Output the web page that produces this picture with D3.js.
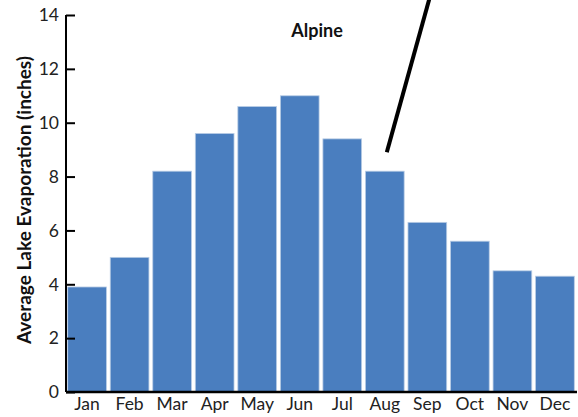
<!DOCTYPE html>
<html>
<head>
<meta charset="utf-8">
<script src="https://d3js.org/d3.v7.min.js"></script>
<style>
  body { margin: 0; background: #fff; }
  text { font-family: Lato, "Open Sans", sans-serif; }
</style>
</head>
<body>
<script>
  var months = ["Jan","Feb","Mar","Apr","May","Jun","Jul","Aug","Sep","Oct","Nov","Dec"];
  var evaporation = [3.9, 5.0, 8.2, 9.6, 10.6, 11.0, 9.4, 8.2, 6.3, 5.6, 4.5, 4.3];
  var yTicks = [0, 2, 4, 6, 8, 10, 12, 14];
  // pointer line: from Aug up past the top, toward Sep
  var pointer = [{ month: "Aug", value: 8.9 }, { month: "Sep", value: 14.6 }];
  var label = "Alpine";

  var width = 578, height = 417;
  var margin = { left: 66, right: 2, top: 15, bottom: 25 };

  var svg = d3.select("body").append("svg")
    .attr("width", width)
    .attr("height", height);

  var x = d3.scaleBand()
    .domain(months)
    .range([margin.left, width - margin.right])
    .paddingInner(0.09)
    .paddingOuter(0.04);

  var y = d3.scaleLinear()
    .domain([0, 14])
    .range([height - margin.bottom, margin.top]);

  svg.selectAll("rect.bar")
    .data(evaporation)
    .enter()
    .append("rect")
    .attr("class", "bar")
    .attr("x", function (d, i) { return x(months[i]); })
    .attr("y", function (d) { return y(d); })
    .attr("width", x.bandwidth())
    .attr("height", function (d) { return y(0) - y(d); })
    .attr("fill", "#4a7ebf")
    .attr("stroke", "#b9cde5")
    .attr("stroke-width", 0.8);

  // y axis
  var yAxis = svg.append("g")
    .attr("transform", "translate(" + margin.left + ",0)")
    .call(d3.axisRight(y).tickValues(yTicks).tickSize(9).tickFormat(""));
  yAxis.select(".domain").attr("stroke", "#000").attr("stroke-width", 2)
    .attr("d", "M0," + y(14) + "V" + y(0));
  yAxis.selectAll(".tick line").attr("stroke", "#000").attr("stroke-width", 2);

  svg.selectAll("text.ytick")
    .data(yTicks)
    .enter()
    .append("text")
    .attr("class", "ytick")
    .attr("x", margin.left - 7)
    .attr("y", function (d) { return y(d); })
    .attr("dy", "0.36em")
    .attr("text-anchor", "end")
    .attr("font-size", 17.5)
    .attr("fill", "#222")
    .text(function (d) { return d; });

  // x axis
  var xAxis = svg.append("g")
    .attr("transform", "translate(0," + y(0) + ")")
    .call(d3.axisBottom(x).tickSize(0).tickPadding(6));
  xAxis.select(".domain").attr("stroke", "#000").attr("stroke-width", 2.5)
    .attr("d", "M" + margin.left + ",0H" + (width - 1));
  xAxis.selectAll(".tick text")
    .attr("font-family", "Lato, 'Open Sans', sans-serif")
    .attr("font-size", 17.5)
    .attr("fill", "#222");

  // y label
  svg.append("text")
    .attr("transform", "translate(31,200) rotate(-90)")
    .attr("text-anchor", "middle")
    .attr("font-size", 19)
    .attr("font-weight", "bold")
    .attr("fill", "#111")
    .text("Average Lake Evaporation (inches)");

  // annotation
  svg.append("line")
    .attr("x1", x(pointer[0].month) + x.bandwidth() / 2 + 2)
    .attr("y1", y(pointer[0].value))
    .attr("x2", x(pointer[1].month) + x.bandwidth() / 2 + 2)
    .attr("y2", y(pointer[1].value))
    .attr("stroke", "#000")
    .attr("stroke-width", 4);

  svg.append("text")
    .attr("x", 317)
    .attr("y", 37)
    .attr("text-anchor", "middle")
    .attr("font-size", 18)
    .attr("font-weight", "bold")
    .attr("fill", "#111")
    .text(label);
</script>
</body>
</html>
